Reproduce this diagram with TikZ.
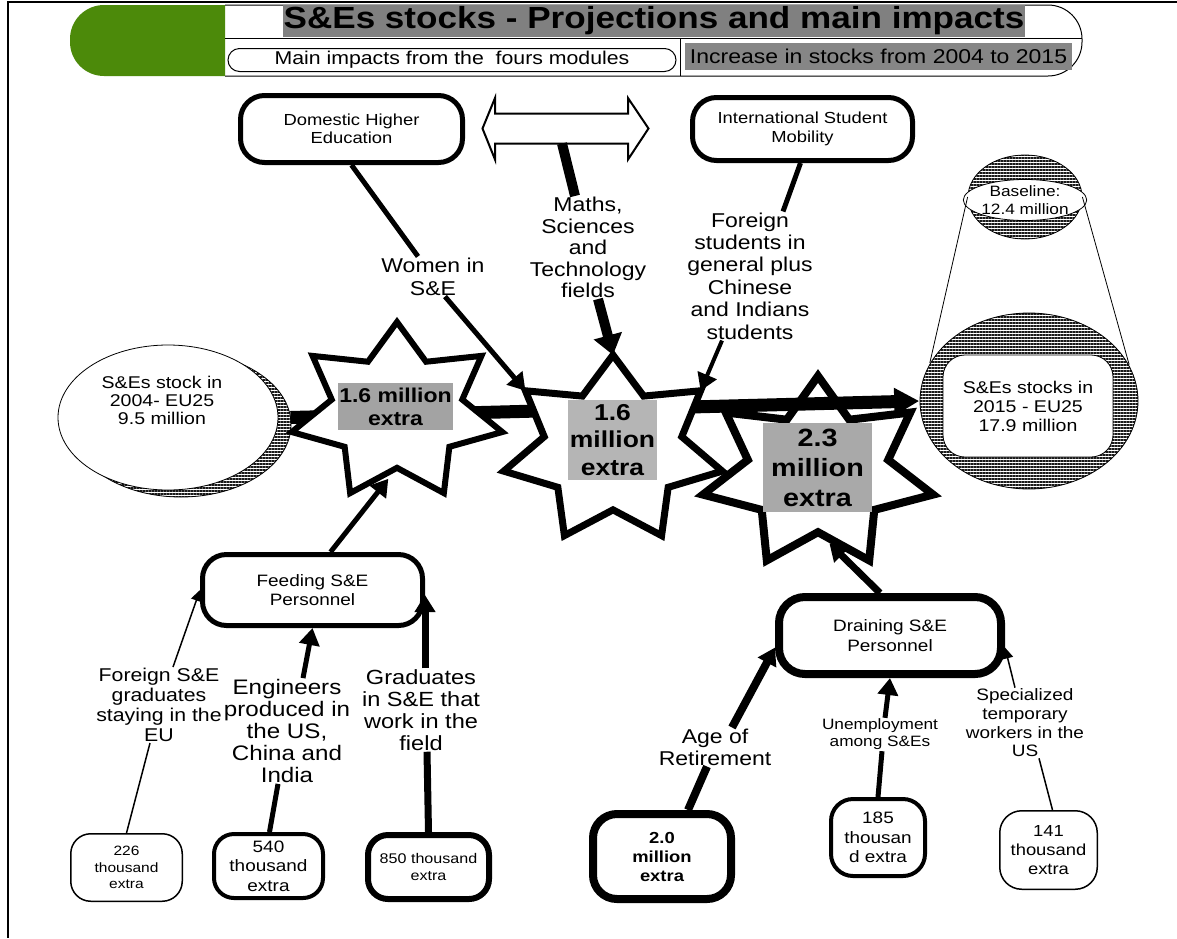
\documentclass[tikz,border=0pt]{standalone}
\usepackage{fontspec}
\setmainfont{Liberation Sans}[FakeStretch=1.15]
\usetikzlibrary{arrows.meta,shapes.geometric,patterns.meta}
\definecolor{hgreen}{RGB}{76,138,10}
\definecolor{tgray}{RGB}{128,128,128}
\definecolor{igray}{RGB}{134,134,134}
\definecolor{sgrayA}{RGB}{163,163,163}
\definecolor{sgrayB}{RGB}{181,181,181}
\definecolor{sgrayC}{RGB}{169,169,169}
\newcommand{\fsz}[2]{\fontsize{#1pt}{#2pt}\selectfont}
\newcommand{\mystar}[7]{%
  \foreach \i in {0,...,13}{%
    \pgfmathsetmacro\rr{mod(\i,2)==0 ? 1 : #6}%
    \coordinate (#1-\i) at ({#2+#4*\rr*cos(90+\i*360/14)},{#3-#5*\rr*sin(90+\i*360/14)});
  }%
  \draw[#7] (#1-0) \foreach \i in {1,...,13}{ -- (#1-\i)} -- cycle;
}
\tikzset{
  rbox/.style={draw, fill=white, rounded corners=#1, align=center, inner sep=0pt},
  rbox/.default=24pt,
  lab/.style={align=center, inner sep=1pt},
  hatch/.style={pattern={Lines[angle=0,distance=3pt,line width=1.6pt]}, pattern color=black!90},
  starline/.style={draw=black, fill=white, line width=#1, line join=miter},
  tipS/.style={-{Triangle[length=11pt,width=11pt]}},
  tipM/.style={-{Triangle[length=17pt,width=20pt]}},
  tipL/.style={-{Triangle[length=20pt,width=28pt]}},
}
\begin{document}
\begin{tikzpicture}[x=1pt,y=-1pt]
\useasboundingbox (0,0) rectangle (1177,938);
\fill[white] (0,0) rectangle (1177,938);
% frame
\draw[line width=2pt] (1177,1.5) -- (8,1.5) -- (8,938);

% header
\fill[hgreen] (225,5) [rounded corners=34pt] -- (70,5) -- (70,76) [sharp corners] -- (225,76) -- cycle;
\draw[line width=1pt] (225,5) [rounded corners=34pt] -- (1082,5) -- (1082,76) [sharp corners] -- (225,76);
\node[fill=tgray, minimum width=742pt, minimum height=32pt, inner sep=0pt, font={\bfseries\fsz{30.5}{32}}] (title) at (654,21) {S\&Es stocks - Projections and main impacts};
\draw[line width=1pt] (225,38) -- (1082,38);
\draw[line width=1pt] (680,38) -- (680,76);
\node[draw, rounded corners=11.5pt, line width=1pt, minimum width=448pt, minimum height=23pt, inner sep=0pt, font={\fsz{18.5}{20}}] (pill) at (452,60) {Main impacts from the\ \ fours modules};
\node[fill=igray, minimum width=387pt, minimum height=27pt, inner sep=0pt, font={\fsz{20}{22}}] (inc) at (878.5,56.5) {Increase in stocks from 2004 to 2015};

% top boxes
\node[rbox, line width=5pt, minimum width=222pt, minimum height=67pt, font={\fsz{16}{18}}] (dhe) at (351.5,129) {Domestic Higher\\Education};
\node[rbox, line width=5pt, minimum width=220pt, minimum height=63pt, font={\fsz{16}{19}}] (ism) at (802.5,129) {International Student\\Mobility};
\draw[line width=2pt, fill=white, line join=miter] (482.5,128.5) -- (495,98) -- (495,113.5) -- (628,113.5) -- (628,98) -- (648.5,128.5) -- (628,159.5) -- (628,143.5) -- (495,143.5) -- (495,159.5) -- cycle;
\coordinate (dblb) at (562,143.5);

% labels
\node[lab, font={\fsz{20}{23}}] (women) at (433,276.5) {Women in\\S\&E};
\node[lab, font={\fsz{20}{21.5}}] (maths) at (588,247.5) {Maths,\\Sciences\\and\\Technology\\fields};
\node[lab, font={\fsz{20}{22.4}}] (fstud) at (750,276) {Foreign\\students in\\general plus\\Chinese\\and Indians\\students};

% right ellipses
\node[ellipse, draw, line width=0.8pt, hatch, minimum width=218pt, minimum height=176pt, inner sep=0pt] (stock15) at (1029,401) {};
\node[rbox=22pt, line width=0.8pt, minimum width=170pt, minimum height=102pt, font={\fsz{17}{19}}] (in15) at (1028,406) {S\&Es stocks in\\2015 - EU25\\17.9 million};
\node[ellipse, draw, line width=0.8pt, hatch, minimum width=114pt, minimum height=84pt, inner sep=0pt] (base) at (1025,197) {};
\node[ellipse, draw, line width=0.8pt, fill=white, minimum width=110pt, minimum height=40pt, inner sep=0pt, align=center, font={\fsz{15}{18}}] (basein) at (1025,200) {Baseline:\\12.4 million};
\draw[line width=0.8pt] (base.west) -- (stock15.159);
\draw[line width=0.8pt] (base.east) -- (stock15.20);

% left ellipse
\node[ellipse, draw, line width=0.8pt, hatch, minimum width=220pt, minimum height=145pt, inner sep=0pt] (shadow04) at (181,424.5) {};
\node[ellipse, draw, line width=0.8pt, fill=white, minimum width=220pt, minimum height=145pt, inner sep=0pt] (stock04) at (168,417.5) {};
\node[lab, font={\fsz{17}{18}}] (t04) at (162,400) {S\&Es stock in\\2004- EU25\\9.5 million};

% stars and main arrow
\mystar{s3}{818}{473}{118}{97}{0.61}{starline=8pt}
\draw[line width=13pt, -{Triangle[length=25pt,width=26pt]}] ([xshift=12pt]stock04.east) -- (stock15.west);
\mystar{s1}{397}{412}{108}{90}{0.62}{starline=6pt}
\mystar{s2}{613}{450}{112}{95}{0.63}{starline=7pt}
\node[fill=sgrayA, minimum width=115pt, minimum height=47pt, inner sep=0pt, align=center, font={\bfseries\fsz{20}{23}}] (s1t) at (395.5,406.5) {1.6 million\\extra};
\node[fill=sgrayB, minimum width=89pt, minimum height=80pt, inner sep=0pt, align=center, font={\bfseries\fsz{23}{27.5}}] (s2t) at (612.5,440) {1.6\\million\\extra};
\node[fill=sgrayC, minimum width=109pt, minimum height=89pt, inner sep=0pt, align=center, font={\bfseries\fsz{25}{30}}] (s3t) at (817.5,467.5) {2.3\\million\\extra};

% lower left
\node[rbox, line width=5pt, minimum width=220pt, minimum height=71pt, font={\fsz{16.5}{19}}] (feed) at (312.5,590) {Feeding S\&E\\Personnel};
\node[lab, font={\fsz{18.5}{20}}] (fgrad) at (159,705) {Foreign S\&E\\graduates\\staying in the\\EU};
\node[lab, font={\fsz{21}{22}}] (eng) at (287,731) {Engineers\\produced in\\the US,\\China and\\India};
\node[lab, font={\fsz{20.5}{22}}] (grad) at (421,710) {Graduates\\in S\&E that\\work in the\\field};
\node[rbox=20pt, line width=1.5pt, minimum width=111.5pt, minimum height=67.5pt, font={\fsz{13.5}{16.5}}] (b226) at (126.5,867.5) {226\\thousand\\extra};
\node[rbox=20pt, line width=4pt, minimum width=109pt, minimum height=64pt, font={\fsz{16.5}{19.5}}] (b540) at (268.5,866) {540\\thousand\\extra};
\node[rbox=20pt, line width=6pt, minimum width=121pt, minimum height=64pt, font={\fsz{14}{17.5}}] (b850) at (428.5,867) {850 thousand\\extra};

% lower right
\node[rbox=26pt, line width=8pt, minimum width=222pt, minimum height=77pt, font={\fsz{16.5}{20}}] (drain) at (890,635.5) {Draining S\&E\\Personnel};
\node[lab, font={\fsz{20}{22}}] (age) at (715,747) {Age of\\Retirement};
\node[lab, font={\fsz{15}{17}}] (unemp) at (880,734.5) {Unemployment\\among S\&Es};
\node[lab, font={\fsz{16.5}{18.7}}] (spec) at (1025,723) {Specialized\\temporary\\workers in the\\US};
\node[rbox=24pt, line width=8pt, minimum width=138pt, minimum height=85pt, font={\bfseries\fsz{16}{19}}] (b20) at (662,856.5) {2.0\\million\\extra};
\node[rbox=22pt, line width=4pt, minimum width=94pt, minimum height=77pt, font={\fsz{16.5}{19.5}}] (b185) at (878,837.5) {185\\thousan\\d extra};
\node[rbox=22pt, line width=1.5pt, minimum width=97.5pt, minimum height=78.5pt, font={\fsz{16}{19}}] (b141) at (1048.5,850) {141\\thousand\\extra};

% connectors top
\draw[line width=5pt] (dhe.south) -- ([xshift=-15pt]women.north);
\draw[line width=5pt, tipM] ([xshift=12pt]women.south) -- (s2-2);
\draw[line width=10pt] (dblb) -- ([xshift=-13pt]maths.north);
\draw[line width=10pt, tipL] ([xshift=10pt]maths.south) -- (s2-0);
\draw[line width=5pt] ([xshift=-2pt]ism.south) -- ([xshift=33pt]fstud.north);
\draw[line width=4pt, tipM] ([xshift=-28pt]fstud.south) -- (s2-12);

% connectors lower left
\draw[line width=5pt, tipM, shorten >=14pt] ([xshift=18pt]feed.north) -- (s1-7);
\draw[line width=1.5pt] (b226.north) -- ([xshift=-9pt]fgrad.south);
\draw[line width=1.5pt, tipS] ([xshift=14pt]fgrad.north) -- (feed.west);
\draw[line width=5pt] ([xshift=1pt]b540.north) -- ([xshift=-9pt]eng.south);
\draw[line width=5pt, tipM] ([xshift=16pt]eng.north) -- (feed.south);
\draw[line width=7pt] (b850.north) -- ([xshift=6pt]grad.south);
\draw[line width=7pt, tipM] ([xshift=4pt]grad.north) -- ([yshift=-5pt]feed.east);

% connectors lower right
\draw[line width=7pt, tipM, shorten >=16pt] ([xshift=-10pt]drain.north) -- (s3-7);
\draw[line width=8pt] ([xshift=26pt]b20.north) -- ([xshift=-8pt]age.south);
\draw[line width=8pt, tipM] ([xshift=17pt]age.north) -- ([yshift=-12pt]drain.west);
\draw[line width=5pt] (b185.north) -- ([xshift=2pt]unemp.south);
\draw[line width=5pt, tipM] ([xshift=5pt]unemp.north) -- (drain.south);
\draw[line width=1.5pt] ([xshift=4pt]b141.north) -- ([xshift=14pt]spec.south);
\draw[line width=1.5pt, tipS] ([xshift=-10pt]spec.north) -- ([yshift=-12pt]drain.east);
\end{tikzpicture}
\end{document}
